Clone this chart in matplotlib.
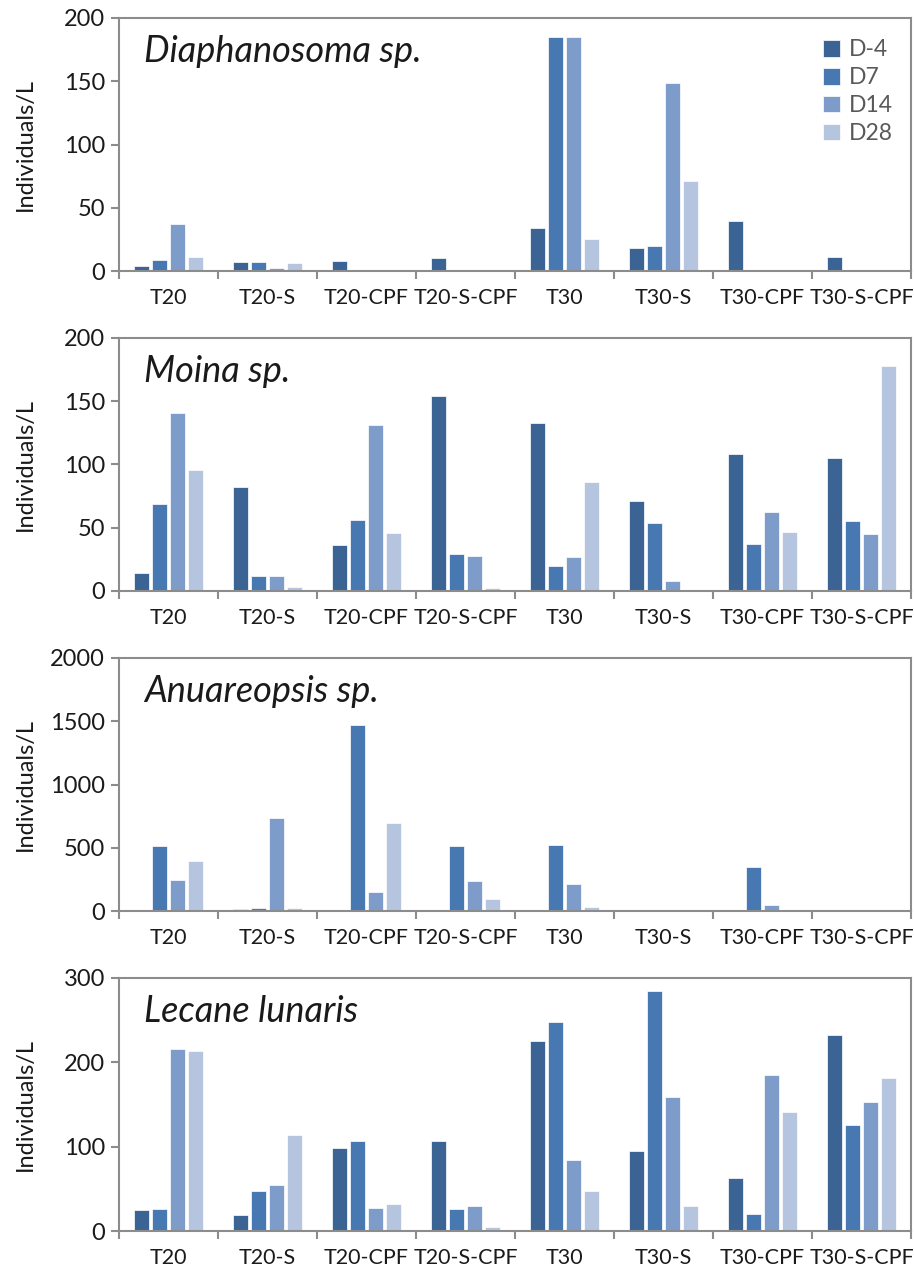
import numpy as np
import matplotlib
matplotlib.use("Agg")
import matplotlib.pyplot as plt

plt.rcParams['font.family'] = ['Lato', 'DejaVu Sans']

groups = ["T20", "T20-S", "T20-CPF", "T20-S-CPF", "T30", "T30-S", "T30-CPF", "T30-S-CPF"]
days = ["D-4", "D7", "D14", "D28"]
colors = ["#3B6495", "#4878B2", "#7E9CCA", "#B5C4DF"]

# values per species, one list per sampling day (order follows groups)
diaphanosoma_d_4 = [4, 7, 8, 10, 34, 18, 39.5, 11]
diaphanosoma_d7 = [9, 7.5, 0, 0, 185, 20, 0, 0]
diaphanosoma_d14 = [37, 2.5, 0, 0, 185, 149, 1, 0]
diaphanosoma_d28 = [11, 6.5, 0, 0, 25, 71, 0, 0]

moina_d_4 = [14, 82.5, 36.5, 154, 132.5, 71.5, 108, 105.5]
moina_d7 = [69, 12, 56.5, 29, 19.5, 54, 37, 55]
moina_d14 = [141, 11.5, 131, 27.5, 27, 8, 62.5, 45]
moina_d28 = [95.5, 3, 46, 2.5, 86.5, 0, 46.5, 177.5]

anuareopsis_d_4 = [5, 13, 0, 0, 5, 5, 0, 0]
anuareopsis_d7 = [511, 24, 1468, 514, 524, 0, 348, 0]
anuareopsis_d14 = [242, 735, 148, 237, 211, 0, 47, 0]
anuareopsis_d28 = [393, 24, 693, 92, 29, 0, 0, 0]

lecane_d_4 = [25, 19, 98, 107, 225, 95, 62.5, 232]
lecane_d7 = [26, 47, 107, 26, 248, 285, 20.5, 126]
lecane_d14 = [216, 55, 27.5, 30, 84, 158.5, 185, 153.5]
lecane_d28 = [214, 114, 31.5, 5, 48, 30, 141, 182]

panels = [
    ("Diaphanosoma sp.", [diaphanosoma_d_4, diaphanosoma_d7, diaphanosoma_d14, diaphanosoma_d28], 200, 50),
    ("Moina sp.", [moina_d_4, moina_d7, moina_d14, moina_d28], 200, 50),
    ("Anuareopsis sp.", [anuareopsis_d_4, anuareopsis_d7, anuareopsis_d14, anuareopsis_d28], 2000, 500),
    ("Lecane lunaris", [lecane_d_4, lecane_d7, lecane_d14, lecane_d28], 300, 100),
]

# axes boxes in figure pixels: (top, bottom)
boxes = [(18, 271), (338, 591), (658, 911), (978, 1231)]
W, H = 914, 1272
left, right = 119, 911

fig = plt.figure(figsize=(W / 100, H / 100), dpi=100)
x = np.arange(len(groups))
pitch = 0.182
width = 0.148
spine_col = "#8C8C8C"
txt_col = "#1a1a1a"

for i, (title, series, ymax, step) in enumerate(panels):
    top, bot = boxes[i]
    ax = fig.add_axes([left / W, 1 - bot / H, (right - left) / W, (bot - top) / H])
    for j, vals in enumerate(series):
        ax.bar(x + (j - 1.5) * pitch, vals, width=width, color=colors[j],
               edgecolor="white", linewidth=0.5, label=days[j], zorder=2)
    ax.set_xlim(-0.5, len(groups) - 0.5)
    ax.set_ylim(0, ymax)
    ax.set_yticks(np.arange(0, ymax + 1, step))
    ax.set_xticks(np.arange(-0.5, len(groups)), [])
    ax.set_xticks(x, groups, minor=True)
    ax.tick_params(axis="x", which="major", length=6, width=1.5, color=spine_col)
    ax.tick_params(axis="x", which="minor", length=0, pad=12, labelsize=15.5, labelcolor=txt_col)
    ax.tick_params(axis="y", length=6, width=1.5, color=spine_col, labelsize=17,
                   labelcolor=txt_col, pad=4)
    for s in ax.spines.values():
        s.set_color(spine_col)
        s.set_linewidth(1.5)
    # y label at a fixed horizontal spot so all four line up
    fig.text(25 / W, 1 - (top + bot) / 2 / H, "Individuals/L", fontsize=17,
             color=txt_col, rotation=90, ha="center", va="center")
    ax.text(0.032, 0.825, title, transform=ax.transAxes, fontsize=26,
            style="italic", va="baseline", ha="left", color=txt_col)
    if i == 0:
        ax.legend(loc="upper right", bbox_to_anchor=(0.995, 0.97), frameon=False,
                  fontsize=16.5, labelcolor="#595959", handlelength=0.75,
                  handleheight=0.75, handletextpad=0.4, labelspacing=0.3,
                  borderaxespad=0.2)

fig.savefig("out.png", dpi=100)
